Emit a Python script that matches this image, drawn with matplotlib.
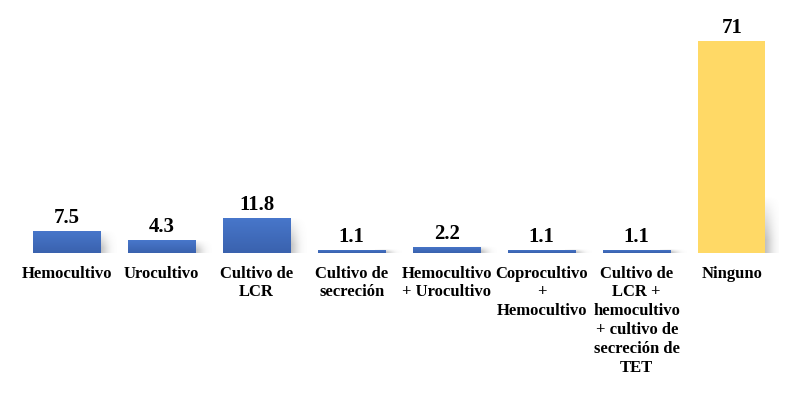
import numpy as np
import matplotlib.pyplot as plt
from matplotlib.colors import LinearSegmentedColormap

categorias = ["Hemocultivo", "Urocultivo", "Cultivo de\nLCR", "Cultivo de\nsecreción",
              "Hemocultivo\n+ Urocultivo", "Coprocultivo\n+\nHemocultivo",
              "Cultivo de\nLCR +\nhemocultivo\n+ cultivo de\nsecreción de\nTET", "Ninguno"]
valores = [7.5, 4.3, 11.8, 1.1, 2.2, 1.1, 1.1, 71]
etiquetas = ["7.5", "4.3", "11.8", "1.1", "2.2", "1.1", "1.1", "71"]

azul = "#4170C4"
amarillo = "#FFD966"
colores = [azul] * 7 + [amarillo]

plt.rcParams['font.family'] = ['Liberation Serif', 'DejaVu Serif']

fig = plt.figure(figsize=(8, 3.93), dpi=100)
ax = fig.add_axes([0.024, 0.356, 0.95, 0.608])

x = range(len(valores))
barras = ax.bar(x, valores, width=0.71, color=colores, zorder=2)

# degradado azul y sombra suave a la derecha de cada barra
cmap_azul = LinearSegmentedColormap.from_list("azul", ["#3A62AE", "#4877CB"])
grad = np.linspace(0, 1, 64).reshape(-1, 1)
for b, c in zip(barras, colores):
    x0, w, h = b.get_x(), b.get_width(), b.get_height()
    if c == azul:
        im = ax.imshow(grad, cmap=cmap_azul, origin="lower", aspect="auto",
                       extent=(x0, x0 + w, 0, h), zorder=3)
        im.set_clip_path(b)
    hs = min(h, 19)
    xs = np.linspace(0, 1, 40)
    ys = np.linspace(0, 1, 40)
    alfa = np.outer(np.clip(1.3 - ys * 1.3, 0, 1), np.exp(-((xs - 0.3) / 0.35) ** 2)) * 0.5
    rgba = np.zeros((40, 40, 4))
    rgba[..., :3] = 0.5
    rgba[..., 3] = alfa
    ax.imshow(rgba, origin="lower", aspect="auto",
              extent=(x0 + w * 0.85, x0 + w * 1.25, 0, hs), zorder=1)

for xi, v, t in zip(x, valores, etiquetas):
    ax.annotate(t, (xi, v), xytext=(0, 2), textcoords="offset points",
                ha="center", va="bottom", fontsize=15, fontweight="bold")

ax.set_xlim(-0.5, len(valores) - 0.5)
ax.set_ylim(0, 80)
ax.set_xticks(list(x))
ax.set_xticklabels(categorias, fontsize=12, fontweight="bold", linespacing=1.24)
ax.tick_params(axis="x", length=0, pad=9)
ax.set_yticks([])
for s in ax.spines.values():
    s.set_visible(False)

plt.savefig("out.png")
